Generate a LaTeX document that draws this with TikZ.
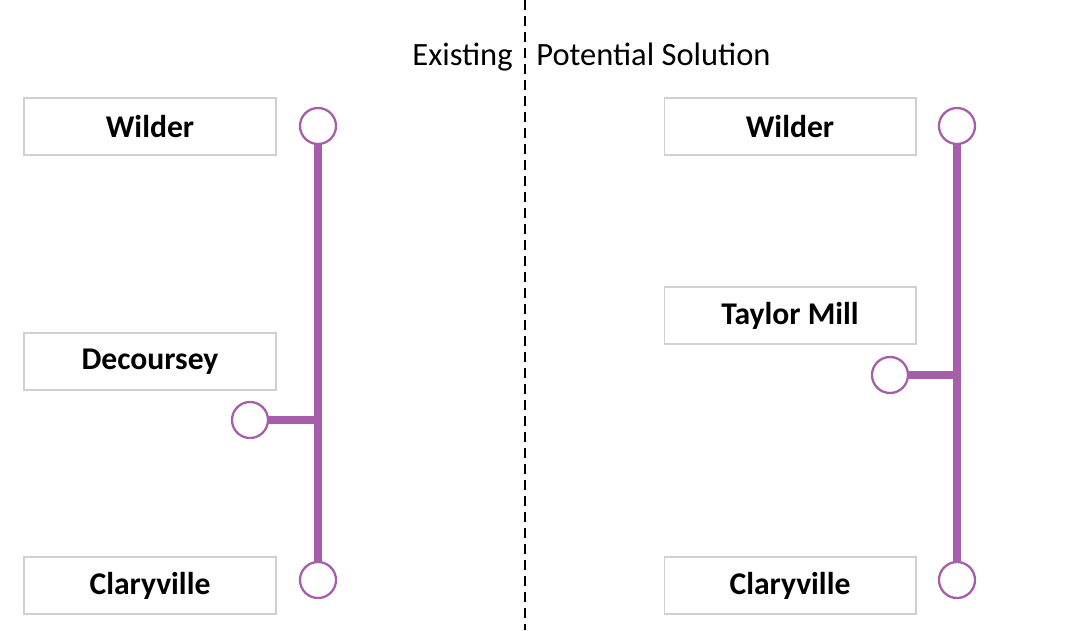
\documentclass[tikz,border=0pt]{standalone}
\usepackage{fontspec}
\setmainfont{Carlito}
\usetikzlibrary{positioning,calc}
\usepackage{xcolor}
\definecolor{linepurple}{RGB}{166,94,171}
\definecolor{boxgray}{RGB}{208,208,208}

\begin{document}
\begin{tikzpicture}[x=0.02cm, y=-0.02cm, font=\fontsize{18}{21}\selectfont\bfseries,
    stationbox/.style={draw=boxgray, line width=0.6pt, fill=white, minimum width=5.04cm, minimum height=1.14cm, inner sep=0pt},
    stop/.style={circle, draw=linepurple, line width=1.3pt, fill=white, minimum size=0.72cm, inner sep=0pt},
    trunk/.style={draw=linepurple, line width=5pt}]
    \useasboundingbox (0,0) rectangle (1069,630);

    % divider and headings
    \coordinate (dtop) at (525,0);
    \coordinate (dbot) at (525,630);
    \draw[line width=1pt, dash pattern=on 0.2cm off 0.12cm] (dtop) -- (dbot);
    \node[anchor=base east, inner sep=0pt, font=\fontsize{18.5}{22}\selectfont] (exist) at (513,65) {Existing};
    \node[anchor=base west, inner sep=0pt, font=\fontsize{18.5}{22}\selectfont] (potsol) at (536,65) {Potential Solution};

    % existing
    \node[stationbox] (wild) at (150,126.5) {Wilder};
    \node[stationbox] (dec) at (150,361.5) {Decoursey};
    \node[stationbox] (clary) at (150,585.5) {Claryville};
    \node[stop] (wtop) at (318,126) {};
    \node[stop] (wbot) at (318,580) {};
    \node[stop] (dtap) at (250,420) {};
    \draw[trunk] (wtop.south) -- (wbot.north);
    \draw[trunk] (dtap.east) -- (wtop.south |- dtap.east);

    % potential solution
    \node[stationbox] (wild2) at (790,126.5) {Wilder};
    \node[stationbox] (taylor) at (790,315.5) {Taylor Mill};
    \node[stationbox] (clary2) at (790,585.5) {Claryville};
    \node[stop] (ptop) at (957,126) {};
    \node[stop] (pbot) at (957,580) {};
    \node[stop] (ttap) at (890,375) {};
    \draw[trunk] (ptop.south) -- (pbot.north);
    \draw[trunk] (ttap.east) -- (ptop.south |- ttap.east);
\end{tikzpicture}
\end{document}
